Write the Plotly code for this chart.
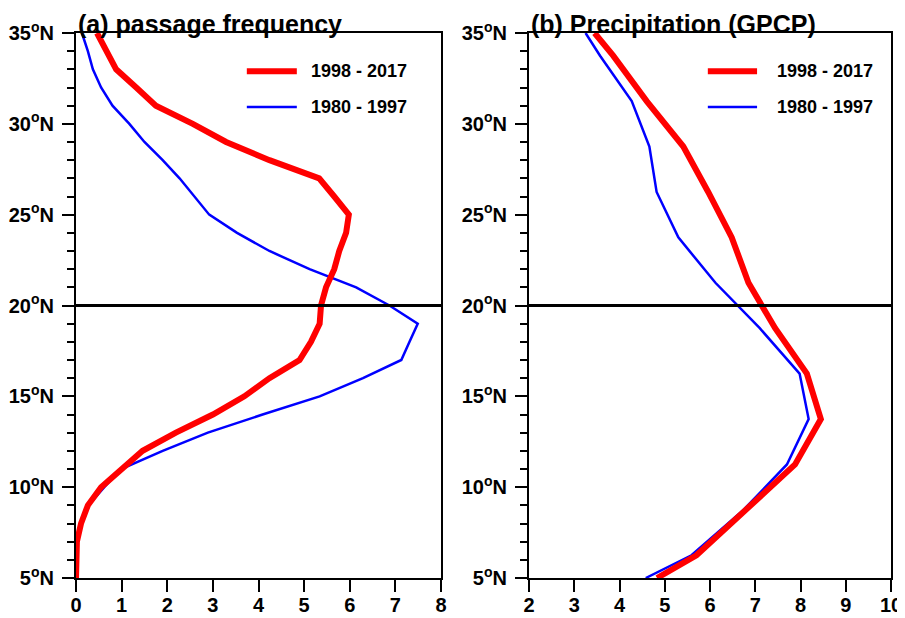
import plotly.graph_objects as go
from plotly.subplots import make_subplots

# ---- data ----
lat_a = [35, 34, 33, 32, 31, 30, 29, 28, 27, 26, 25, 24, 23, 22, 21, 20,
         19, 18, 17, 16, 15, 14, 13, 12, 11, 10, 9, 8, 7, 6, 5]
freq_new = [0.46, 0.66, 0.88, 1.32, 1.75, 2.56, 3.29, 4.24, 5.33, 5.66, 5.98, 5.92, 5.77, 5.66, 5.48, 5.37,
            5.34, 5.15, 4.90, 4.24, 3.69, 3.00, 2.19, 1.46, 0.99, 0.55, 0.26, 0.11, 0.02, 0.01, 0.0]
freq_old = [0.13, 0.26, 0.37, 0.55, 0.80, 1.17, 1.50, 1.90, 2.27, 2.59, 2.92, 3.53, 4.24, 5.12, 6.14, 6.87,
            7.49, 7.31, 7.13, 6.29, 5.34, 4.09, 2.89, 1.90, 0.99, 0.62, 0.27, 0.11, 0.02, 0.01, 0.0]

lat_b = [35, 33.75, 31.25, 28.75, 26.25, 23.75, 21.25, 18.75, 16.25, 13.75, 11.25, 8.75, 6.25, 5]
prec_new = [3.45, 3.86, 4.60, 5.41, 5.96, 6.48, 6.85, 7.44, 8.14, 8.45, 7.88, 6.81, 5.70, 4.83]
prec_old = [3.25, 3.57, 4.27, 4.66, 4.82, 5.30, 6.12, 7.10, 7.98, 8.18, 7.70, 6.74, 5.59, 4.58]

label_new = "1998 - 2017"
label_old = "1980 - 1997"
titles = ["(a) passage frequency", "(b) Precipitation (GPCP)"]
lat_ticks = [5, 10, 15, 20, 25, 30, 35]
lat_labels = [f"<b>{v}<sup>o</sup>N</b>" for v in lat_ticks]
xa_ticks = list(range(0, 9))
xb_ticks = list(range(2, 11))
ref_lat = 20

RED = "#ff0000"
BLUE = "#0000ff"
FONT = "Liberation Sans"

fig = make_subplots(rows=1, cols=2)

fig.add_trace(go.Scatter(x=freq_old, y=lat_a, mode="lines", line=dict(color=BLUE, width=2.5),
                         name=label_old, showlegend=False), row=1, col=1)
fig.add_trace(go.Scatter(x=freq_new, y=lat_a, mode="lines", line=dict(color=RED, width=6),
                         name=label_new, showlegend=False), row=1, col=1)
fig.add_trace(go.Scatter(x=prec_old, y=lat_b, mode="lines", line=dict(color=BLUE, width=2.5),
                         name=label_old, showlegend=False), row=1, col=2)
fig.add_trace(go.Scatter(x=prec_new, y=lat_b, mode="lines", line=dict(color=RED, width=6),
                         name=label_new, showlegend=False), row=1, col=2)

# page has an 8px body margin: figure spans window pixels 8..905 / 8..618
OFF = 8
W, H = 905 - OFF, 618 - OFF
def px_x(p):
    return (p - OFF) / W
def px_y(p):
    return 1 - (p - OFF) / H

doms_x = [(px_x(76), px_x(441)), (px_x(529), px_x(891))]
dom_y = (px_y(578), px_y(33))

common_ax = dict(showline=True, linecolor="black", linewidth=2, mirror=True,
                 ticks="outside", tickcolor="black", tickwidth=2, ticklen=12,
                 showgrid=False, zeroline=False, automargin=False,
                 tickfont=dict(family=FONT, size=20, color="black"))

fig.update_xaxes(**common_ax, ticklabelstandoff=-4)
fig.update_yaxes(**common_ax, ticklabelstandoff=4)

minor = dict(dtick=1, ticks="outside", ticklen=7, tickcolor="black", tickwidth=1.5)
fig.update_layout(
    xaxis=dict(domain=doms_x[0], range=[0, 8], tickvals=xa_ticks, ticktext=[f"<b>{v}</b>" for v in xa_ticks]),
    xaxis2=dict(domain=doms_x[1], range=[2, 10], tickvals=xb_ticks, ticktext=[f"<b>{v}</b>" for v in xb_ticks]),
    yaxis=dict(domain=dom_y, range=[5, 35], tickvals=lat_ticks, ticktext=lat_labels, minor=minor),
    yaxis2=dict(domain=dom_y, range=[5, 35], tickvals=lat_ticks, ticktext=lat_labels, minor=minor),
    width=W, height=H,
    margin=dict(l=0, r=0, t=0, b=0),
    paper_bgcolor="white", plot_bgcolor="white",
    font=dict(family=FONT, color="black"),
)

# reference line at 20N, titles, legends
legend_pos = [(0.468, 0.605, 0.638), (0.494, 0.630, 0.680)]
for i, sfx in enumerate(["", "2"]):
    xr = f"x{sfx} domain"
    yr = f"y{sfx}"
    fig.add_shape(type="line", xref=xr, yref=yr, x0=0, x1=1, y0=ref_lat, y1=ref_lat,
                  line=dict(color="black", width=3))
    fig.add_annotation(text=f"<b>{titles[i]}</b>", xref=xr, yref=f"y{sfx} domain", x=0, y=1,
                       xanchor="left", yanchor="bottom", yshift=-7, showarrow=False,
                       font=dict(family=FONT, size=25, color="black"))
    lx0, lx1, tx = legend_pos[i]
    for yy, col, wd, lab in [(0.930, RED, 6, label_new), (0.864, BLUE, 2.5, label_old)]:
        fig.add_shape(type="line", xref=xr, yref=f"y{sfx} domain", x0=lx0, x1=lx1, y0=yy, y1=yy,
                      line=dict(color=col, width=wd))
        fig.add_annotation(text=f"<b>{lab}</b>", xref=xr, yref=f"y{sfx} domain", x=tx, y=yy,
                           xanchor="left", yanchor="middle", showarrow=False,
                           font=dict(family=FONT, size=18, color="black"))

fig.write_html("out.html")
